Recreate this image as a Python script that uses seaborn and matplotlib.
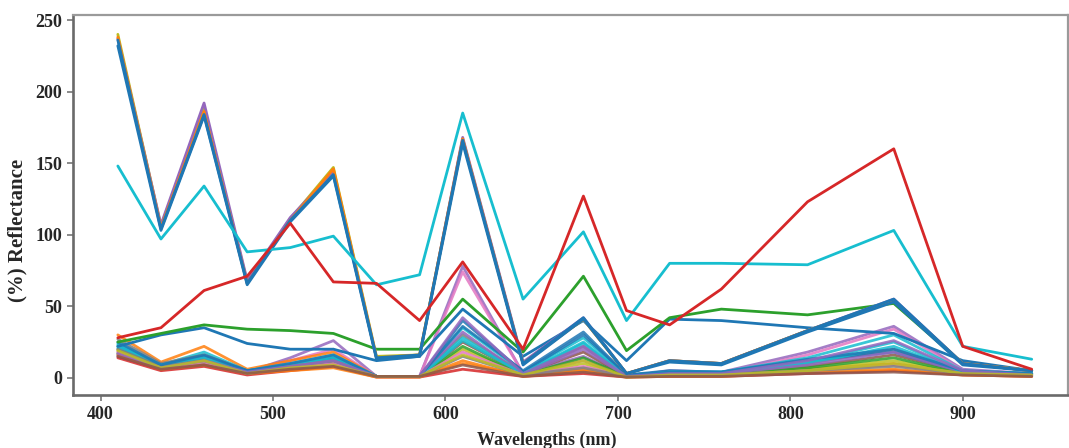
import matplotlib
matplotlib.use("Agg")
import matplotlib.pyplot as plt
import seaborn as sns

wavelengths = [410, 435, 460, 485, 510, 535, 560, 585, 610, 645, 680, 705, 730, 760, 810, 860, 900, 940]

# prominent single curves
red_curve = [28, 35, 61, 71, 108, 67, 66, 40, 81, 20, 127, 47, 37, 62, 123, 160, 22, 6]
cyan_curve = [148, 97, 134, 88, 91, 99, 65, 72, 185, 55, 102, 40, 80, 80, 79, 103, 22, 13]
green_curve = [25, 31, 37, 34, 33, 31, 20, 20, 55, 18, 71, 19, 42, 48, 44, 52, 10, 5]
blue_mid_curve = [22, 30, 35, 24, 20, 20, 12, 15, 48, 15, 40, 12, 41, 40, 35, 31, 12, 5]

# high bundle
high_olive = [240, 106, 188, 67, 111, 147, 15, 16, 166, 10, 41, 3, 12, 10, 33, 54, 10, 5]
high_purple = [237, 107, 192, 68, 112, 144, 14, 15, 168, 11, 42, 3, 12, 10, 33, 55, 10, 5]
high_orange = [238, 105, 186, 66, 110, 146, 14, 16, 167, 10, 41, 3, 12, 10, 33, 54, 10, 5]
high_blue_a = [236, 104, 184, 66, 110, 142, 14, 16, 166, 10, 42, 3, 12, 10, 33, 55, 10, 5]
high_blue_b = [232, 103, 183, 65, 109, 141, 13, 15, 164, 9, 41, 3, 11, 9, 32, 53, 9, 5]

# low bundle of samples
low_group = [
    [16, 7, 12, 4, 14, 26, 1, 1, 78, 3, 15, 1, 5, 4, 18, 36, 6, 3],
    [18, 8, 14, 4, 12, 20, 1, 1, 74, 3, 12, 1, 4, 3, 16, 34, 5, 3],
    [30, 11, 22, 6, 12, 18, 1, 1, 10, 2, 6, 1, 2, 2, 6, 10, 3, 2],
    [24, 9, 18, 5, 10, 16, 1, 1, 35, 4, 28, 2, 4, 4, 14, 30, 5, 3],
    [27, 10, 16, 5, 9, 14, 1, 1, 30, 3, 22, 1, 3, 3, 10, 20, 4, 2],
    [20, 8, 13, 4, 8, 12, 1, 1, 25, 3, 18, 1, 3, 3, 8, 16, 4, 2],
    [22, 9, 15, 5, 9, 14, 1, 1, 40, 4, 30, 2, 5, 4, 12, 18, 4, 3],
    [19, 7, 11, 3, 7, 10, 1, 1, 20, 2, 10, 1, 2, 2, 6, 12, 3, 2],
    [21, 8, 12, 4, 8, 13, 1, 1, 28, 3, 25, 1, 4, 3, 10, 22, 4, 3],
    [17, 7, 10, 3, 7, 11, 1, 1, 22, 2, 14, 1, 3, 2, 7, 14, 3, 2],
    [15, 6, 9, 3, 6, 9, 1, 1, 32, 2, 20, 1, 3, 3, 9, 18, 4, 2],
    [14, 5, 8, 2, 5, 8, 0.5, 0.5, 6, 1, 3, 0.5, 1, 1, 3, 5, 2, 1],
    [16, 6, 9, 3, 5, 7, 0.5, 0.5, 12, 1, 5, 0.5, 1, 1, 4, 6, 2, 1],
    [23, 9, 14, 4, 9, 15, 1, 1, 26, 3, 24, 1, 4, 4, 11, 25, 4, 3],
    [18, 7, 11, 3, 7, 10, 1, 1, 18, 2, 8, 1, 2, 2, 5, 9, 3, 2],
    [20, 8, 12, 4, 8, 12, 1, 1, 15, 2, 7, 1, 2, 2, 5, 8, 3, 2],
    [25, 9, 16, 5, 10, 16, 1, 1, 36, 5, 32, 2, 4, 4, 13, 20, 5, 3],
    [17, 7, 12, 4, 8, 12, 1, 1, 42, 3, 22, 1, 3, 3, 12, 26, 5, 2],
    [19, 7, 12, 3, 7, 9, 1, 1, 16, 2, 12, 0.5, 2, 2, 5, 10, 3, 2],
    [15, 6, 9, 3, 6, 8, 1, 1, 9, 1, 4, 0.5, 1, 1, 3, 4, 2, 1],
]
low_colors = ["tab:purple", "tab:pink", "tab:orange", "tab:cyan", "tab:gray",
              "tab:brown", "tab:blue", "tab:olive", "tab:cyan", "tab:green",
              "tab:purple", "tab:red", "tab:orange", "tab:cyan", "tab:pink",
              "tab:gray", "tab:blue", "tab:purple", "tab:olive", "tab:brown"]

x_ticks = [400, 500, 600, 700, 800, 900]
y_ticks = [0, 50, 100, 150, 200, 250]

sns.set_style("white")
plt.rcParams['font.family'] = ['Liberation Serif', 'DejaVu Serif']

fig = plt.figure(figsize=(10.69, 4.48), dpi=100)
ax = fig.add_axes([0.0683, 0.1183, 0.9307, 0.8482])

lw = 2.0
for vals, c in zip(low_group, low_colors):
    sns.lineplot(x=wavelengths, y=vals, color=c, lw=lw, ax=ax, alpha=0.85)
sns.lineplot(x=wavelengths, y=blue_mid_curve, color="tab:blue", lw=lw, ax=ax)
sns.lineplot(x=wavelengths, y=green_curve, color="tab:green", lw=lw, ax=ax)
for vals, c in [(high_olive, "tab:olive"), (high_purple, "tab:purple"),
                (high_orange, "tab:orange"), (high_blue_a, "tab:blue"),
                (high_blue_b, "tab:blue")]:
    sns.lineplot(x=wavelengths, y=vals, color=c, lw=lw, ax=ax)
sns.lineplot(x=wavelengths, y=cyan_curve, color="tab:cyan", lw=lw, ax=ax)
sns.lineplot(x=wavelengths, y=red_curve, color="tab:red", lw=lw, ax=ax)

ax.set_xlim(384, 961)
ax.set_ylim(-12, 253.5)
ax.set_xticks(x_ticks)
ax.set_yticks(y_ticks)
ax.set_xticklabels([str(v) for v in x_ticks], fontsize=13, fontweight='bold')
ax.set_yticklabels([str(v) for v in y_ticks], fontsize=13, fontweight='bold')
ax.tick_params(axis='both', direction='out', length=4, width=1.2, color='#777777',
               bottom=True, left=True, pad=4)
for side in ['top', 'right']:
    ax.spines[side].set_color('#9a9a9a')
    ax.spines[side].set_linewidth(1.6)
for side in ['left', 'bottom']:
    ax.spines[side].set_color('#6a6a6a')
    ax.spines[side].set_linewidth(1.9)
ax.set_xlabel("Wavelengths (nm)", fontsize=13, fontweight='bold')
ax.set_ylabel("(%) Reflectance", fontsize=15, fontweight='bold')
ax.xaxis.set_label_coords(0.476, -0.097)
ax.yaxis.set_label_coords(-0.046, 0.434)

fig.savefig("out.png", dpi=100)
